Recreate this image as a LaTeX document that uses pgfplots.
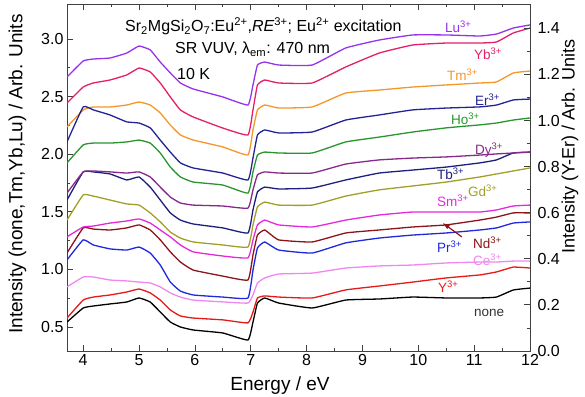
\documentclass[border=0pt]{standalone}
\usepackage{fontspec}
\setmainfont{Liberation Sans}
\usepackage{pgfplots}
\usepackage{pgfplotstable}
\pgfplotsset{compat=1.18}
\usetikzlibrary{arrows.meta}

% excitation spectra, curves scaled against the left axis
\pgfplotstableread{
E      none   Tm     Yb     Lu
3.71   0.543  2.236  2.444  2.670
4.00   0.665  2.384  2.583  2.809
4.18   0.682  2.410  2.618  2.826
4.48   0.700  2.410  2.644  2.835
4.78   0.717  2.427  2.688  2.878
5.00   0.752  2.453  2.748  2.939
5.20   0.717  2.427  2.714  2.905
5.38   0.630  2.358  2.618  2.800
5.56   0.543  2.253  2.497  2.705
5.74   0.500  2.167  2.384  2.618
5.97   0.474  2.123  2.323  2.566
6.50   0.448  2.063  2.227  2.497
6.95   0.387  1.993  2.167  2.427
7.04   0.543  2.210  2.384  2.601
7.12   0.708  2.384  2.601  2.774
7.25   0.752  2.427  2.644  2.800
7.50   0.708  2.401  2.618  2.774
8.10   0.665  2.410  2.618  2.774
8.70   0.734  2.531  2.757  2.922
9.30   0.743  2.557  2.878  2.991
9.90   0.760  2.583  2.948  3.035
10.50  0.752  2.601  2.965  3.035
11.10  0.752  2.618  2.965  3.026
11.40  0.760  2.627  2.974  3.043
11.70  0.821  2.705  3.052  3.095
12.00  0.838  2.722  3.095  3.122
}\lefttab

% excitation spectra, curves scaled against the right axis
\pgfplotstableread{
E      Y      Ce     Pr     Nd     Sm     Gd     Tb     Dy     Ho     Er
3.71   0.143  0.278  0.395  0.425  0.495  0.568  0.655  0.685  0.816  0.907
4.00   0.221  0.321  0.482  0.534  0.538  0.677  0.777  0.777  0.894  1.059
4.18   0.234  0.321  0.460  0.529  0.542  0.672  0.777  0.781  0.902  1.046
4.48   0.243  0.308  0.443  0.525  0.555  0.655  0.768  0.777  0.902  1.024
4.78   0.256  0.304  0.438  0.534  0.564  0.638  0.742  0.772  0.907  0.994
5.00   0.269  0.299  0.451  0.547  0.573  0.633  0.755  0.777  0.915  0.989
5.20   0.252  0.295  0.425  0.525  0.555  0.599  0.711  0.755  0.902  0.968
5.38   0.221  0.278  0.373  0.482  0.525  0.560  0.655  0.711  0.859  0.915
5.56   0.178  0.252  0.299  0.430  0.495  0.516  0.599  0.668  0.798  0.863
5.74   0.152  0.234  0.260  0.386  0.460  0.490  0.568  0.642  0.755  0.816
5.97   0.143  0.221  0.243  0.351  0.430  0.473  0.551  0.633  0.733  0.794
6.50   0.135  0.213  0.234  0.325  0.412  0.460  0.534  0.629  0.720  0.772
6.95   0.122  0.208  0.230  0.308  0.404  0.451  0.512  0.620  0.685  0.742
7.04   0.169  0.243  0.351  0.417  0.482  0.547  0.612  0.699  0.777  0.837
7.12   0.230  0.295  0.447  0.503  0.547  0.625  0.690  0.764  0.850  0.937
7.25   0.239  0.317  0.473  0.525  0.568  0.646  0.711  0.777  0.863  0.959
7.50   0.234  0.334  0.438  0.482  0.547  0.633  0.703  0.772  0.859  0.946
8.10   0.230  0.338  0.425  0.473  0.538  0.633  0.707  0.772  0.859  0.950
8.70   0.265  0.360  0.469  0.512  0.568  0.672  0.742  0.811  0.907  1.002
9.30   0.282  0.369  0.490  0.525  0.590  0.699  0.772  0.829  0.928  1.024
9.90   0.299  0.373  0.503  0.538  0.603  0.716  0.785  0.837  0.950  1.046
10.50  0.317  0.382  0.512  0.547  0.603  0.733  0.798  0.842  0.968  1.054
11.10  0.330  0.386  0.525  0.568  0.603  0.755  0.816  0.850  0.981  1.059
11.40  0.343  0.386  0.534  0.581  0.612  0.768  0.829  0.855  0.989  1.067
11.70  0.364  0.390  0.555  0.599  0.629  0.781  0.859  0.859  1.002  1.089
12.00  0.360  0.390  0.560  0.599  0.633  0.794  0.863  0.863  1.011  1.093
}\righttab

\definecolor{cLu}{RGB}{150,50,235}
\definecolor{cYb}{RGB}{228,30,105}
\definecolor{cTm}{RGB}{245,150,40}
\definecolor{cEr}{RGB}{35,35,150}
\definecolor{cHo}{RGB}{40,150,45}
\definecolor{cDy}{RGB}{135,40,140}
\definecolor{cTb}{RGB}{30,30,125}
\definecolor{cGd}{RGB}{160,160,40}
\definecolor{cSm}{RGB}{230,40,220}
\definecolor{cNd}{RGB}{140,20,25}
\definecolor{cPr}{RGB}{30,40,220}
\definecolor{cCe}{RGB}{240,135,240}
\definecolor{cY}{RGB}{230,25,25}
\definecolor{cnone}{RGB}{0,0,0}

\newcommand{\tickfont}{\fontsize{16}{18}\selectfont}
\newcommand{\lblfont}{\fontsize{13.5}{15}\selectfont}

\pgfplotsset{
  spec/.style={line width=1.3pt, smooth, tension=0.22, no marks},
  base/.style={
    scale only axis, width=463pt, height=347pt,
    at={(67pt,45pt)}, anchor=south west,
    xmin=3.71, xmax=12,
    axis line style={line width=0.8pt, black!75},
    tick style={line width=0.8pt, black!75},
    tick align=inside,
    major tick length=6pt, minor tick length=3pt,
    tick label style={font=\tickfont},
    /pgf/number format/assume math mode=true,
  },
}

\begin{document}
\begin{tikzpicture}[x=1pt,y=1pt]
\path[use as bounding box] (0,0) rectangle (585,396);

\begin{axis}[base,
  ymin=0.2916, ymax=3.3038,
  xtick={4,...,12}, minor x tick num=1, xtick pos=both,
  ytick={0.5,1.0,...,3.0}, minor y tick num=1, ytick pos=left,
  yticklabel style={/pgf/number format/.cd, fixed, fixed zerofill, precision=1},
]
\addplot[spec, cnone] table[x=E, y=none] {\lefttab};
\addplot[spec, cTm]   table[x=E, y=Tm]   {\lefttab};
\addplot[spec, cYb]   table[x=E, y=Yb]   {\lefttab};
\addplot[spec, cLu]   table[x=E, y=Lu]   {\lefttab};
\end{axis}

\begin{axis}[base,
  ymin=0, ymax=1.5054,
  axis x line=none, axis y line*=right,
  ytick={0,0.2,...,1.4}, minor y tick num=1,
  yticklabel style={xshift=4pt, /pgf/number format/.cd, fixed, fixed zerofill, precision=1},
]
\addplot[spec, cY]  table[x=E, y=Y]  {\righttab};
\addplot[spec, cCe] table[x=E, y=Ce] {\righttab};
\addplot[spec, cPr] table[x=E, y=Pr] {\righttab};
\addplot[spec, cNd] table[x=E, y=Nd] {\righttab};
\addplot[spec, cSm] table[x=E, y=Sm] {\righttab};
\addplot[spec, cGd] table[x=E, y=Gd] {\righttab};
\addplot[spec, cTb] table[x=E, y=Tb] {\righttab};
\addplot[spec, cDy] table[x=E, y=Dy] {\righttab};
\addplot[spec, cHo] table[x=E, y=Ho] {\righttab};
\addplot[spec, cEr] table[x=E, y=Er] {\righttab};
\draw[cNd, line width=1.2pt, -{Triangle[length=7pt,width=4pt]}]
  (axis cs:10.78,0.495) -- (axis cs:10.44,0.555);
\end{axis}

% axis titles
\node[rotate=90, font=\fontsize{19}{21}\selectfont] at (17.5,222)
  {Intensity (none,Tm,Yb,Lu) / Arb. Units};
\node[rotate=90, font=\fontsize{18}{20}\selectfont] at (570,249.5)
  {Intensity (Y-Er) / Arb. Units};
\node[anchor=base, font=\fontsize{19}{21}\selectfont] at (280,6) {Energy / eV};

% header text
\node[anchor=base west, inner sep=0, font=\fontsize{16}{18}\selectfont] at (125,364)
  {Sr\textsubscript{2}MgSi\textsubscript{2}O\textsubscript{7}:Eu\textsuperscript{2+},\textit{RE}\textsuperscript{3+}; Eu\textsuperscript{2+} excitation};
\node[anchor=base west, inner sep=0, font=\fontsize{16}{18}\selectfont] at (175,342)
  {SR VUV, λ\textsubscript{em}: 470 nm};
\node[anchor=base west, inner sep=0, font=\fontsize{16}{18}\selectfont] at (177,316) {10 K};

% series names
\begin{scope}[every node/.style={anchor=base west, inner sep=0, font=\lblfont}]
\node[text=cLu] at (445,363) {Lu\textsuperscript{3+}};
\node[text=cYb] at (474,336) {Yb\textsuperscript{3+}};
\node[text=cTm] at (447,315) {Tm\textsuperscript{3+}};
\node[text=cEr] at (475,290) {Er\textsuperscript{3+}};
\node[text=cHo] at (451,271) {Ho\textsuperscript{3+}};
\node[text=cDy] at (475,241) {Dy\textsuperscript{3+}};
\node[text=cTb] at (437,216) {Tb\textsuperscript{3+}};
\node[text=cGd] at (468,199) {Gd\textsuperscript{3+}};
\node[text=cSm] at (437,189) {Sm\textsuperscript{3+}};
\node[text=cNd] at (473,147) {Nd\textsuperscript{3+}};
\node[text=cPr] at (437,143) {Pr\textsuperscript{3+}};
\node[text=cCe] at (473,130) {Ce\textsuperscript{3+}};
\node[text=cY]  at (438,103) {Y\textsuperscript{3+}};
\node[text=black!80] at (474,80) {none};
\end{scope}
\end{tikzpicture}
\end{document}
